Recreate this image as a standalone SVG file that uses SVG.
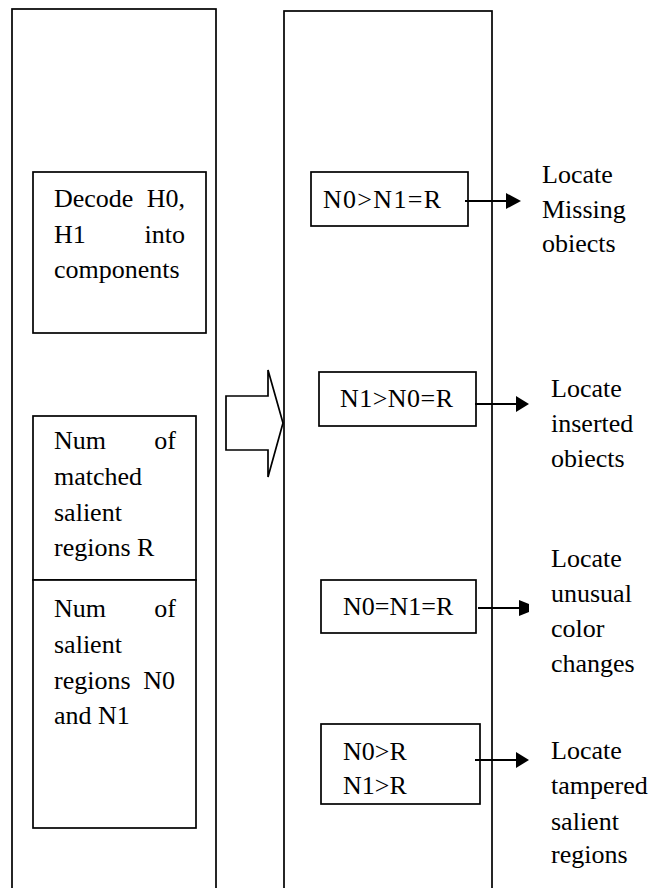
<svg xmlns="http://www.w3.org/2000/svg" width="651" height="888" viewBox="0 0 651 888">
<style>
.box{fill:#fff;stroke:#000;stroke-width:1.7}
.ln{stroke:#000;stroke-width:2.2;fill:none}
.hd{fill:#000;stroke:none}
text{font-family:"Liberation Serif","Times New Roman",serif;font-size:26px;fill:#000}
.e{text-anchor:end}
</style>
<rect width="651" height="888" fill="#fff"/>
<g id="left-column">
<rect class="box" x="12" y="9" width="204" height="900"/>
</g>
<g id="right-column">
<rect class="box" x="284" y="11" width="208" height="900"/>
</g>
<g id="decode">
<rect class="box" x="33" y="172" width="173" height="161"/>
<text x="54" y="207">Decode</text><text class="e" x="185" y="207">H0,</text>
<text x="54" y="243">H1</text><text class="e" x="185" y="243">into</text>
<text x="54" y="278">components</text>
</g>
<g id="matched">
<rect class="box" x="33" y="416" width="163" height="164"/>
<text x="54" y="449">Num</text><text class="e" x="176" y="449">of</text>
<text x="54" y="485">matched</text>
<text x="54" y="521">salient</text>
<text x="54" y="556">regions R</text>
</g>
<g id="salient">
<rect class="box" x="33" y="580" width="163" height="248"/>
<text x="54" y="617">Num</text><text class="e" x="176" y="617">of</text>
<text x="54" y="653">salient</text>
<text x="54" y="689">regions</text><text class="e" x="175" y="689">N0</text>
<text x="54" y="724">and N1</text>
</g>
<g id="block-arrow">
<polygon class="box" points="226,396 268,396 268,370 283,423 268,477 268,450 226,450"/>
</g>
<g id="c1">
<rect class="box" x="311" y="172" width="157" height="54"/>
<text x="323" y="208" textLength="118" lengthAdjust="spacing">N0&gt;N1=R</text>
</g>
<g id="c2">
<rect class="box" x="319" y="372" width="157" height="54"/>
<text x="340" y="407" textLength="113" lengthAdjust="spacing">N1&gt;N0=R</text>
</g>
<g id="c3">
<rect class="box" x="321" y="580" width="155" height="53"/>
<text x="343" y="615">N0=N1=R</text>
</g>
<g id="c4">
<rect class="box" x="321" y="724" width="159" height="80"/>
<text x="343" y="760">N0&gt;R</text>
<text x="343" y="794">N1&gt;R</text>
</g>
<g id="connectors">
<line class="ln" x1="465" y1="201" x2="507" y2="201"/>
<polygon class="hd" points="506,193 521,201 506,209"/>
<line class="ln" x1="475" y1="404" x2="517" y2="404"/>
<polygon class="hd" points="516,396 529,404 516,412"/>
<line class="ln" x1="478" y1="608" x2="520" y2="608"/>
<polygon class="hd" points="519,600 529,604 529,612 519,616"/>
<line class="ln" x1="475" y1="760" x2="517" y2="760"/>
<polygon class="hd" points="516,752 529,760 516,768"/>
</g>
<g id="out1">
<text x="542" y="183">Locate</text>
<text x="542" y="218">Missing</text>
<text x="542" y="252">obiects</text>
</g>
<g id="out2">
<text x="551" y="397">Locate</text>
<text x="551" y="432">inserted</text>
<text x="551" y="467">obiects</text>
</g>
<g id="out3">
<text x="551" y="567">Locate</text>
<text x="551" y="602">unusual</text>
<text x="551" y="637">color</text>
<text x="551" y="672">changes</text>
</g>
<g id="out4">
<text x="551" y="759">Locate</text>
<text x="551" y="794">tampered</text>
<text x="551" y="830">salient</text>
<text x="551" y="863">regions</text>
</g>
</svg>
